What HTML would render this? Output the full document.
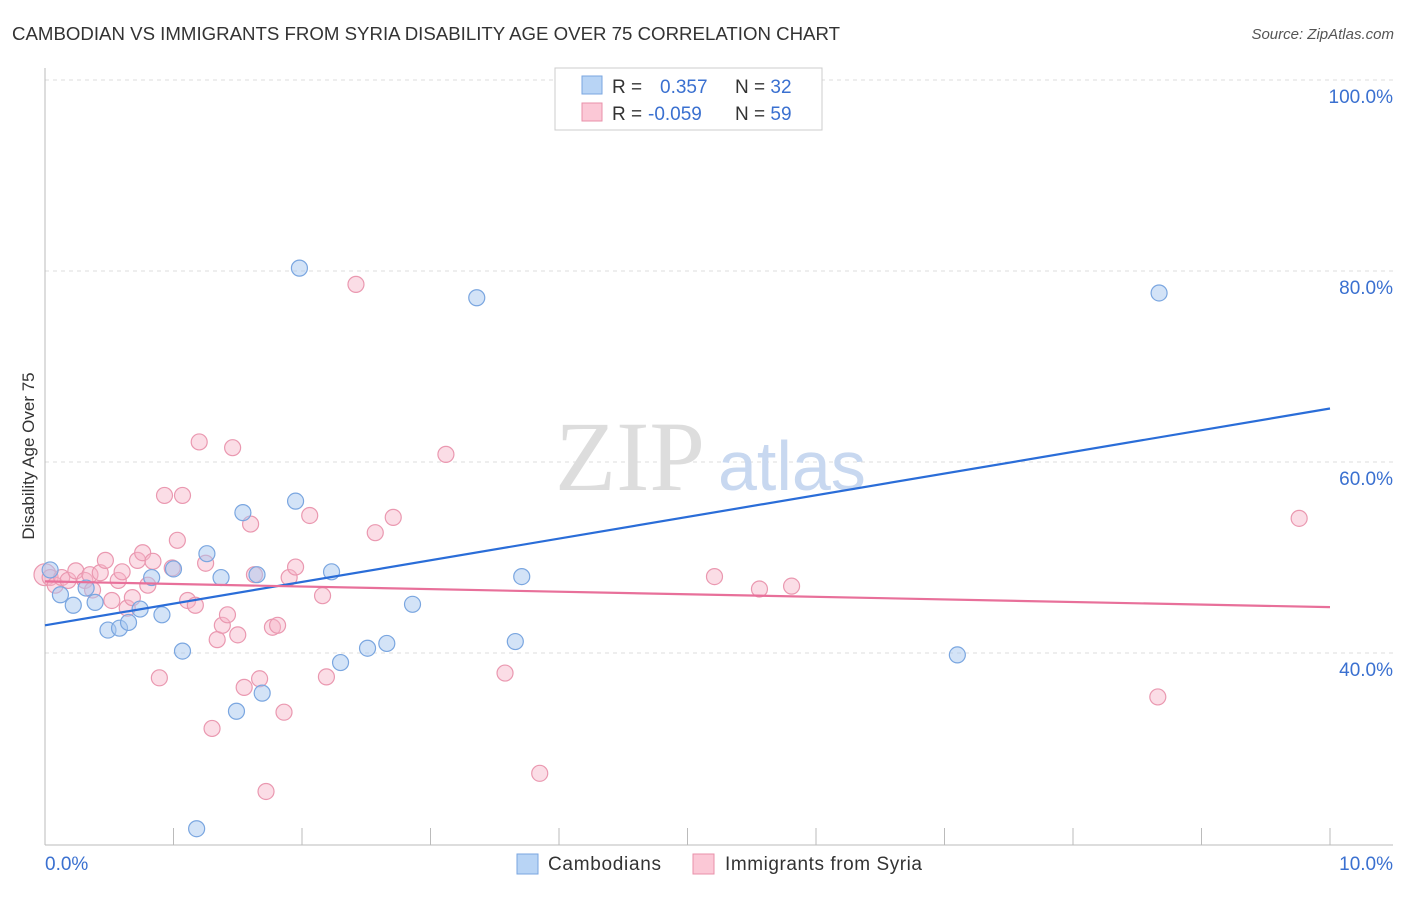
<!DOCTYPE html>
<html><head><meta charset="utf-8"><style>
body{margin:0;background:#fff;font-family:"Liberation Sans",sans-serif}
svg text{font-family:"Liberation Sans",sans-serif}
</style></head><body>
<svg id="c" width="1406" height="892">
<text x="12" y="40" font-size="18" fill="#333" textLength="828" lengthAdjust="spacingAndGlyphs">CAMBODIAN VS IMMIGRANTS FROM SYRIA DISABILITY AGE OVER 75 CORRELATION CHART</text>
<text x="1394" y="39" font-size="15" fill="#555" text-anchor="end" font-style="italic">Source: ZipAtlas.com</text>
<g id="grid"></g>
<text x="555" y="490" font-size="100" fill="#ddd" style="font-family:'Liberation Serif',serif">ZIP</text>
<text x="718" y="490" font-size="70" fill="#c8d8f0">atlas</text>
<g id="pts"></g>
<text transform="translate(34,456) rotate(-90)" font-size="17" fill="#333" text-anchor="middle">Disability Age Over 75</text>
<g>
<rect x="555" y="68" width="267" height="62" fill="#fff" stroke="#ccc"/>
<rect x="582" y="76" width="20" height="18" fill="#b8d4f5" stroke="#7aa6e0"/>
<rect x="582" y="103" width="20" height="18" fill="#fbc8d6" stroke="#e890aa"/>
<text x="612" y="93" font-size="19" fill="#333">R = <tspan fill="#3a70d0" x="660">0.357</tspan><tspan fill="#333" x="735">N = </tspan><tspan fill="#3a70d0">32</tspan></text>
<text x="612" y="120" font-size="19" fill="#333">R = <tspan fill="#3a70d0" x="648">-0.059</tspan><tspan fill="#333" x="735">N = </tspan><tspan fill="#3a70d0">59</tspan></text>
</g>
<g>
<rect x="517" y="854" width="21" height="20" fill="#b8d4f5" stroke="#7aa6e0"/>
<text x="548" y="870" font-size="19" fill="#333" textLength="113">Cambodians</text>
<rect x="693" y="854" width="21" height="20" fill="#fbc8d6" stroke="#e890aa"/>
<text x="725" y="870" font-size="19" fill="#333" textLength="197">Immigrants from Syria</text>
</g>
</svg>
<script>
const xTicks=[0,1,2,3,4,5,6,7,8,9,10];
const yTicks=[40,60,80,100];
const yTickLabels=["40.0%","60.0%","80.0%","100.0%"];
const blueX=[1.98,3.36,8.67,0.04,0.12,0.22,0.32,0.39,0.49,0.58,0.65,0.74,0.83,0.91,1.00,1.07,1.26,1.37,1.49,1.54,1.65,1.69,1.95,2.23,2.30,2.51,2.66,2.86,3.66,3.71,7.10,1.18];
const blueY=[80.3,77.2,77.7,48.7,46.1,45.0,46.8,45.3,42.4,42.6,43.2,44.6,47.9,44.0,48.8,40.2,50.4,47.9,33.9,54.7,48.2,35.8,55.9,48.5,39.0,40.5,41.0,45.1,41.2,48.0,39.8,21.6];
const pinkX=[0,0.04,0.08,0.13,0.18,0.24,0.31,0.35,0.37,0.43,0.47,0.52,0.57,0.60,0.64,0.68,0.72,0.76,0.80,0.84,0.89,0.93,0.99,1.03,1.07,1.11,1.17,1.20,1.25,1.30,1.34,1.38,1.42,1.46,1.50,1.55,1.60,1.63,1.67,1.72,1.77,1.81,1.86,1.90,1.95,2.06,2.16,2.19,2.42,2.57,2.71,3.12,3.58,3.85,5.21,5.56,5.81,9.76,8.66];
const pinkY=[48.2,47.9,47.1,47.9,47.6,48.6,47.6,48.2,46.6,48.4,49.7,45.5,47.6,48.5,44.7,45.8,49.7,50.5,47.1,49.6,37.4,56.5,48.9,51.8,56.5,45.5,45.0,62.1,49.4,32.1,41.4,42.9,44.0,61.5,41.9,36.4,53.5,48.2,37.3,25.5,42.7,42.9,33.8,47.9,49.0,54.4,46.0,37.5,78.6,52.6,54.2,60.8,37.9,27.4,48.0,46.7,47.0,54.1,35.4];
const blueTrend=[42.9,65.6];
const pinkTrend=[47.5,44.8];
const X=v=>45+v*128.5;
const Y=v=>1035-v*9.55;
const NS="http://www.w3.org/2000/svg";
function mk(t,a,p){const e=document.createElementNS(NS,t);for(const k in a)e.setAttribute(k,a[k]);p.appendChild(e);return e;}
const g=document.getElementById('grid');
yTicks.forEach((v,i)=>{
 const l=mk('line',{x1:45,x2:1393,y1:Y(v),y2:Y(v),stroke:'#ddd','stroke-dasharray':'4,4'},g);
 
 
 const t=mk('text',{x:1393,y:Y(v)+23,'font-size':19,fill:'#3a70d0','text-anchor':'end'},g);
 t.textContent=yTickLabels[i];
 
 
});
const ax=mk('line',{x1:45,x2:45,y1:68,y2:845,stroke:'#bbb'},g);


const bx=mk('line',{x1:45,x2:1393,y1:845,y2:845,stroke:'#bbb'},g);


xTicks.forEach(v=>{
 const l=mk('line',{x1:X(v),x2:X(v),y1:828,y2:845,stroke:'#bbb'},g);
 
 
});
[[0,"0.0%","start",45],[10,"10.0%","end",1393]].forEach(d=>{
 const t=mk('text',{x:d[3],y:870,'font-size':19,fill:'#3a70d0','text-anchor':d[2]},g);
 t.textContent=d[1];
 
 
});
const p=document.getElementById('pts');
pinkX.forEach((x,i)=>{
 const c=mk('circle',{cx:X(x),cy:Y(pinkY[i]),r:i==0?11:8,fill:'rgba(246,180,200,0.45)',stroke:'#ea98b0','stroke-width':1.2},p);
 
 
});
blueX.forEach((x,i)=>{
 const c=mk('circle',{cx:X(x),cy:Y(blueY[i]),r:8,fill:'rgba(168,200,240,0.5)',stroke:'#7aa6e0','stroke-width':1.2},p);
 
 
});
const bl=mk('line',{x1:X(0),x2:X(10),y1:Y(blueTrend[0]),y2:Y(blueTrend[1]),stroke:'#2a6dd8','stroke-width':2.2},p);


const pl=mk('line',{x1:X(0),x2:X(10),y1:Y(pinkTrend[0]),y2:Y(pinkTrend[1]),stroke:'#e8709a','stroke-width':2.2},p);


</script>
</body></html>
